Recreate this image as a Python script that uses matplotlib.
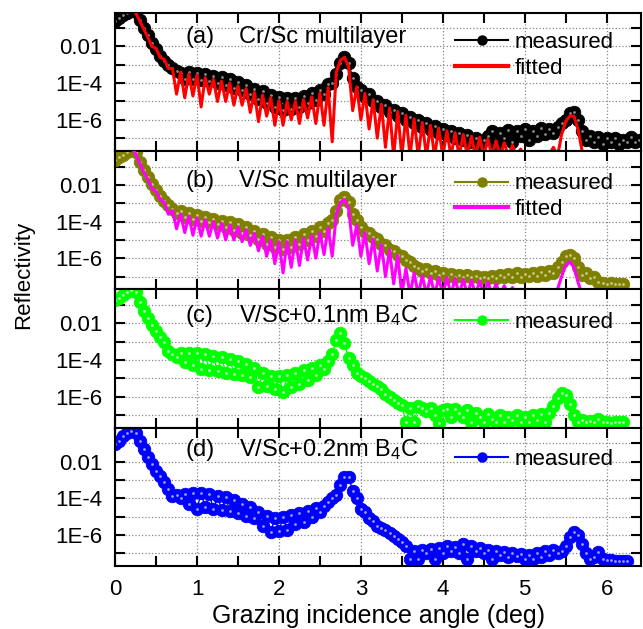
import numpy as np
import matplotlib.pyplot as plt
from matplotlib.lines import Line2D
from matplotlib.ticker import FixedLocator, FixedFormatter, MultipleLocator, NullFormatter

plt.rcParams['font.family'] = ['Liberation Sans', 'DejaVu Sans']
plt.rcParams['mathtext.fontset'] = 'custom'
plt.rcParams['mathtext.rm'] = 'Liberation Sans'
plt.rcParams['mathtext.default'] = 'regular'

STEP = 0.05  # scan step in grazing angle (deg), every scan starts at 0

# log10(reflectivity) for each scan / fit
crsc_meas = [
    -0.6, -0.45, -0.3, -0.15, -0.05, -0.1, -0.55, -1.0, -1.4, -1.8,
    -2.15, -2.5, -2.8, -3.0, -3.2, -3.35, -3.45, -3.75, -3.4, -3.8,
    -3.45, -3.85, -3.5, -3.9, -3.6, -4.0, -3.65, -4.1, -3.8, -4.25,
    -3.95, -4.4, -4.1, -4.6, -4.3, -4.85, -4.45, -5.1, -4.65, -5.3,
    -4.75, -5.45, -4.8, -5.4, -4.8, -5.3, -4.7, -5.1, -4.55, -4.9,
    -4.35, -4.6, -4.05, -4.0, -3.5, -2.9, -2.55, -2.9, -3.7, -4.2,
    -4.4, -4.75, -4.6, -5.0, -4.95, -5.3, -5.2, -5.55, -5.45, -5.8,
    -5.65, -6.0, -5.85, -6.2, -6.0, -6.4, -6.2, -6.55, -6.35, -6.7,
    -6.5, -6.85, -6.6, -7.0, -6.7, -7.1, -6.85, -7.2, -7.0, -7.3,
    -7.1, -6.9, -6.6, -7.3, -6.7, -7.0, -6.55, -7.2, -6.6, -6.9,
    -6.5, -7.1, -6.6, -6.9, -6.45, -6.8, -6.5, -6.7, -6.4, -6.2,
    -6.0, -5.65, -5.6, -6.0, -6.6, -7.1, -6.9, -7.2, -6.95, -7.3,
    -7.0, -7.2, -7.0, -7.3, -7.1, -7.2, -6.95, -7.2, -7.1,
]
crsc_fit = [
    0.0, 0.0, 0.0, 0.0, 0.0, -0.15, -0.6, -1.05, -1.5, -2.0,
    -2.1, -2.6, -2.7, -3.2, -3.2, -4.6, -3.4, -4.8, -3.5, -4.7,
    -3.55, -5.3, -3.7, -4.6, -3.8, -5.0, -3.9, -5.0, -4.0, -5.2,
    -4.15, -5.2, -4.3, -5.6, -4.5, -6.1, -4.65, -5.8, -4.8, -6.3,
    -4.95, -6.3, -5.0, -6.0, -5.0, -6.2, -4.9, -5.9, -4.75, -6.2,
    -4.55, -6.3, -4.25, -7.2, -3.4, -2.75, -2.6, -3.1, -5.5, -4.2,
    -6.0, -4.55, -6.5, -4.9, -7.0, -5.15, -7.5, -5.35, -8.0, -5.55,
    -8.0, -5.75, -8.0, -5.95, -8.0, -6.15, -8.0, -6.3, -8.0, -6.45,
    -8.0, -6.6, -8.0, -6.7, -8.0, -6.8, -8.0, -6.9, -8.0, -6.95,
    -8.0, -7.05, -8.0, -7.15, -8.0, -7.25, -8.0, -7.4, -8.0, -7.6,
    -8.0, -7.8, -8.0, -8.0, -8.0, -8.0, -7.9, -7.5, -8.0, -6.8,
    -6.1, -5.8, -5.8, -6.5, -7.7, -8.0, -8.0, -8.0, -8.0, -8.0,
    -8.0, -8.0, -8.0, -8.0, -8.0, -8.0, -8.0, -8.0, -8.0,
]
vsc_meas = [
    -0.65, -0.5, -0.35, -0.2, -0.1, -0.2, -0.75, -1.2, -1.55, -1.95,
    -2.3, -2.6, -2.9, -3.1, -3.3, -3.55, -3.45, -3.75, -3.55, -3.85,
    -3.65, -3.95, -3.75, -4.05, -3.85, -4.15, -3.95, -4.3, -4.05, -4.45,
    -4.15, -4.6, -4.3, -4.75, -4.5, -4.95, -4.7, -5.2, -4.85, -5.4,
    -5.0, -5.5, -5.0, -5.4, -4.85, -5.25, -4.7, -5.0, -4.5, -4.8,
    -4.3, -4.5, -4.1, -3.9, -3.4, -2.85, -2.65, -2.95, -3.6, -3.9,
    -4.3, -4.55, -4.6, -4.85, -4.95, -5.2, -5.3, -5.55, -5.6, -5.85,
    -5.9, -6.1, -6.2, -6.4, -6.55, -6.7, -6.6, -6.8, -6.7, -6.9,
    -6.8, -7.0, -6.85, -7.0, -6.9, -7.05, -6.9, -7.05, -6.95, -7.1,
    -7.0, -7.1, -6.95, -7.1, -6.9, -7.05, -6.85, -7.0, -6.8, -7.0,
    -6.85, -6.95, -6.8, -6.95, -6.75, -6.9, -6.7, -6.8, -6.5, -6.2,
    -5.9, -5.8, -6.0, -6.5, -6.9, -6.8, -7.1, -7.0, -7.3, -7.35,
    -7.4, -7.35, -7.4, -7.4, -7.4,
]
vsc_fit = [
    0.0, 0.0, 0.0, 0.0, 0.0, -0.3, -0.8, -1.3, -1.7, -2.2,
    -2.35, -2.8, -2.95, -3.6, -3.4, -4.4, -3.6, -4.6, -3.7, -4.75,
    -3.8, -4.8, -3.9, -4.8, -4.0, -4.9, -4.1, -5.0, -4.2, -5.0,
    -4.3, -5.1, -4.45, -5.3, -4.65, -5.6, -4.8, -5.9, -5.0, -6.3,
    -5.1, -6.8, -5.1, -6.5, -5.0, -6.4, -4.9, -6.1, -4.75, -6.0,
    -4.6, -5.8, -4.35, -5.9, -3.6, -2.95, -2.8, -3.3, -5.3, -4.2,
    -5.9, -4.6, -6.3, -4.95, -6.7, -5.25, -7.0, -5.55, -7.4, -5.85,
    -8.0, -6.55, -8.0, -6.8, -8.0, -6.95, -8.0, -7.0, -8.0, -7.05,
    -8.0, -7.05, -8.0, -7.1, -8.0, -7.15, -8.0, -7.2, -8.0, -7.25,
    -8.0, -7.3, -8.0, -7.4, -8.0, -7.5, -8.0, -7.6, -8.0, -7.7,
    -8.0, -8.0, -8.0, -8.0, -8.0, -8.0, -8.0, -8.0, -7.7, -7.0,
    -6.4, -6.2, -6.5, -7.3, -8.0, -8.0, -8.0, -8.0, -8.0, -8.0,
    -8.0, -8.0, -8.0, -8.0, -8.0, -8.0, -8.0, -8.0, -8.0,
]
b4c01_meas = [
    -0.75, -0.6, -0.45, -0.3, -0.2, -0.3, -0.85, -1.35, -1.7, -2.1,
    -2.45, -2.75, -3.0, -3.5, -3.7, -3.85, -3.6, -4.1, -3.65, -4.3,
    -3.6, -4.5, -3.7, -4.55, -3.8, -4.6, -3.85, -4.7, -3.95, -4.75,
    -4.05, -4.85, -4.25, -4.95, -4.45, -5.5, -4.7, -5.4, -4.9, -5.6,
    -4.9, -5.75, -4.85, -5.5, -4.7, -5.3, -4.55, -5.1, -4.45, -4.8,
    -4.3, -4.5, -4.05, -3.7, -2.9, -2.55, -3.1, -3.9, -4.3, -4.7,
    -4.9, -5.0, -5.15, -5.3, -5.45, -5.6, -5.85, -6.0, -6.2, -6.35,
    -6.45, -7.4, -6.6, -7.4, -6.5, -6.6, -6.8, -6.6, -7.0, -7.45,
    -6.75, -6.7, -7.1, -6.7, -6.9, -7.1, -6.75, -7.4, -6.9, -7.1,
    -7.4, -6.95, -7.2, -7.4, -7.0, -7.4, -7.1, -7.3, -7.0, -7.4,
    -7.1, -7.4, -7.0, -7.3, -6.95, -7.4, -6.9, -6.5, -6.1, -5.8,
    -5.9, -6.4, -7.0, -7.4, -7.3, -7.4, -7.35, -7.4, -7.2, -7.4,
    -7.4, -7.45, -7.4, -7.4, -7.4,
]
b4c02_meas = [
    -1.05, -0.85, -0.6, -0.45, -0.35, -0.45, -0.9, -1.3, -1.75, -2.15,
    -2.5, -2.8, -3.1, -3.5, -3.9, -3.8, -4.0, -3.75, -4.3, -3.7,
    -4.6, -3.7, -4.5, -3.75, -4.6, -3.85, -4.65, -3.95, -4.7, -4.1,
    -4.8, -4.3, -4.95, -4.5, -5.1, -4.75, -5.5, -4.95, -5.85, -5.05,
    -5.8, -5.0, -5.75, -4.9, -5.4, -4.8, -5.3, -4.7, -5.0, -4.55,
    -4.75, -4.4, -4.2, -4.0, -3.8, -3.3, -2.85, -2.85, -3.6, -4.0,
    -4.6, -4.75, -5.1, -5.25, -5.5, -5.6, -5.75, -5.9, -6.05, -6.2,
    -6.4, -6.6, -7.3, -6.9, -7.3, -6.8, -7.0, -6.75, -7.3, -6.7,
    -7.0, -6.6, -6.9, -6.65, -7.0, -6.5, -7.3, -6.6, -6.9, -6.7,
    -7.0, -6.8, -7.3, -6.9, -7.1, -6.95, -7.2, -7.0, -7.15, -7.05,
    -7.3, -7.1, -7.3, -7.0, -7.2, -6.9, -7.1, -6.8, -7.0, -6.85,
    -6.6, -6.1, -5.85, -6.0, -6.5, -7.0, -7.3, -7.2, -6.95, -7.3,
    -7.35, -7.35, -7.4, -7.4, -7.4, -7.4,
]

labels = ['(a)', '(b)', '(c)', '(d)']
samples = ['Cr/Sc multilayer', 'V/Sc multilayer',
           'V/Sc+0.1nm B$_4$C', 'V/Sc+0.2nm B$_4$C']
measured = [crsc_meas, vsc_meas, b4c01_meas, b4c02_meas]
fitted = [crsc_fit, vsc_fit, None, None]
meas_colors = ['#000000', '#808000', '#00ff00', '#0000ff']
shine_colors = ['#8a8a8a', '#c8c888', '#b8ffb8', '#9c9cff']
fit_colors = ['#ff0000', '#ff00ff', None, None]
text_y = [0.82, 0.78, 0.81, 0.84]
legend_y = [0.69, 0.67, 0.76, 0.77]


def angles(vals):
    return np.arange(len(vals)) * STEP


fig, axes = plt.subplots(4, 1, sharex=True, figsize=(6.43, 6.29), dpi=100)
fig.subplots_adjust(left=0.179, right=0.997, top=0.98, bottom=0.1, hspace=0)

for i, ax in enumerate(axes):
    m = np.array(measured[i])
    ax.plot(angles(m), 10.0 ** m, '-o', color=meas_colors[i], lw=1, ms=9,
            mec=meas_colors[i], mew=0.6, zorder=2)
    ax.plot(angles(m), 10.0 ** m, 'o', color=shine_colors[i], ms=2,
            mew=0, zorder=2.1)
    handles = [Line2D([], [], color=meas_colors[i], marker='o', ms=6.5, lw=1.5)]
    names = ['measured']
    if fitted[i] is not None:
        f = np.array(fitted[i])
        ax.plot(angles(f), 10.0 ** f, '-', color=fit_colors[i], lw=2.2,
                zorder=3)
        handles.append(Line2D([], [], color=fit_colors[i], lw=3))
        names.append('fitted')

    ax.set_yscale('log')
    ax.set_ylim(10 ** -7.7, 10 ** -0.15)
    ax.set_xlim(0, 6.42)
    ax.yaxis.set_major_locator(FixedLocator([1e-2, 1e-4, 1e-6]))
    ax.yaxis.set_major_formatter(FixedFormatter(['0.01', '1E-4', '1E-6']))
    ax.yaxis.set_minor_locator(FixedLocator([1e-1, 1e-3, 1e-5, 1e-7]))
    ax.yaxis.set_minor_formatter(NullFormatter())
    ax.xaxis.set_major_locator(MultipleLocator(1))
    ax.xaxis.set_minor_locator(MultipleLocator(0.5))
    ax.tick_params(which='both', direction='in', top=True, right=True,
                   width=1.5, labelsize=16)
    ax.tick_params(which='major', length=7)
    ax.tick_params(which='minor', length=7)
    ax.tick_params(axis='y', pad=9)
    ax.tick_params(axis='x', pad=9)
    for sp in ax.spines.values():
        sp.set_linewidth(1.5)
    ax.set_axisbelow(True)
    ax.yaxis.grid(True, which='both', ls=':', color='#888888', lw=0.9)
    ax.xaxis.grid(True, which='major', ls=':', color='#888888', lw=0.9)

    ax.text(0.133, text_y[i], labels[i], transform=ax.transAxes,
            va='center', fontsize=17)
    ax.text(0.235, text_y[i], samples[i], transform=ax.transAxes,
            va='center', fontsize=17)
    ax.legend(handles, names, loc='center left',
              bbox_to_anchor=(0.646, legend_y[i]), frameon=False,
              fontsize=16, handlelength=2.4, handletextpad=0.3,
              borderpad=0, borderaxespad=0, labelspacing=0.2)

fig.text(0.036, 0.563, 'Reflectivity', rotation=90, ha='center',
         va='center', fontsize=16)
fig.text(0.588, 0.02, 'Grazing incidence angle (deg)', ha='center',
         va='center', fontsize=18)

fig.savefig('out.png', dpi=100)
